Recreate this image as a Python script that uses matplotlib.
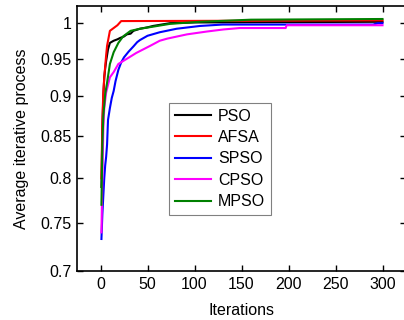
import numpy as np
import matplotlib
matplotlib.use("Agg")
import matplotlib.pyplot as plt
from matplotlib.ticker import FixedLocator, FixedFormatter, NullLocator

plt.rcParams['font.family'] = ['Liberation Sans', 'DejaVu Sans']

# data (iteration, average value)
pso_it = [1, 2, 3, 4, 5, 6, 8, 10, 14, 18, 21, 25, 28, 32, 35, 42, 50, 56,
          74, 100, 300]
pso = [0.79, 0.86, 0.90, 0.925, 0.937, 0.947, 0.963, 0.972, 0.975, 0.977,
       0.979, 0.981, 0.984, 0.985, 0.989, 0.992, 0.994, 0.996, 1.0, 1.001,
       1.002]

afsa_it = [1, 2, 3, 4, 5, 6, 7, 10, 15, 18, 22, 300]
afsa = [0.80, 0.87, 0.905, 0.925, 0.94, 0.955, 0.968, 0.989, 0.994, 0.997,
        1.003, 1.004]

spso_it = [1, 2, 3, 4, 5, 6, 7, 8, 10, 12, 14, 16, 19, 22, 25, 30, 35, 39,
           42, 50, 63, 81, 106, 130, 290, 295, 300]
spso = [0.733, 0.76, 0.78, 0.80, 0.815, 0.825, 0.84, 0.87, 0.885, 0.898,
        0.907, 0.92, 0.935, 0.945, 0.952, 0.96, 0.967, 0.973, 0.976, 0.982,
        0.987, 0.992, 0.996, 0.998, 0.998, 1.0, 1.0]

cpso_it = [1, 2, 3, 4, 6, 8, 10, 14, 19, 28, 38, 53, 63, 71, 92, 113, 131,
           148, 197, 198, 300]
cpso = [0.74, 0.80, 0.86, 0.885, 0.905, 0.915, 0.925, 0.932, 0.943, 0.950,
        0.958, 0.968, 0.975, 0.978, 0.984, 0.988, 0.991, 0.993, 0.993, 0.997,
        0.997]

mpso_it = [1, 2, 3, 5, 7, 10, 14, 19, 24, 32, 42, 56, 74, 106, 160, 300]
mpso = [0.77, 0.84, 0.875, 0.903, 0.918, 0.943, 0.959, 0.972, 0.981, 0.989,
        0.992, 0.995, 0.999, 1.002, 1.005, 1.006]

series = [("PSO", pso_it, pso, "k"),
          ("AFSA", afsa_it, afsa, "#ff0000"),
          ("SPSO", spso_it, spso, "#0000ff"),
          ("CPSO", cpso_it, cpso, "#ff00ff"),
          ("MPSO", mpso_it, mpso, "#008000")]

yticks = [0.7, 0.75, 0.8, 0.85, 0.9, 0.95, 1.0]
ylabels = ["0.7", "0.75", "0.8", "0.85", "0.9", "0.95", "1"]
xticks = [0, 50, 100, 150, 200, 250, 300]

fig = plt.figure(figsize=(4.04, 3.20), dpi=100)
ax = fig.add_axes([77/404, 49/320, 329/404, 265/320])

for name, it, val, c in series:
    ax.plot(it, val, color=c, lw=1.5, label=name)

ax.set_yscale("log")
ax.set_ylim(0.7, 1.025)
ax.set_xlim(-25, 325)
ax.yaxis.set_major_locator(FixedLocator(yticks))
ax.yaxis.set_major_formatter(FixedFormatter(ylabels))
ax.yaxis.set_minor_locator(NullLocator())
ax.set_xticks(xticks)

ax.tick_params(direction="in", length=4, width=1, labelsize=11.5,
               top=True, right=True, pad=4)
for s in ax.spines.values():
    s.set_linewidth(1.2)

ax.set_xlabel("Iterations", fontsize=11.5, labelpad=8)
ax.set_ylabel("Average iterative process", fontsize=11.5, labelpad=8)

leg = ax.legend(loc="upper left", bbox_to_anchor=(0.28, 0.634), borderaxespad=0,
                fancybox=False, framealpha=1, edgecolor="#808080",
                fontsize=11.5, handlelength=2.3, handletextpad=0.4,
                labelspacing=0.4, borderpad=0.35)
leg.get_frame().set_linewidth(0.8)

fig.savefig("out.png", dpi=100)
